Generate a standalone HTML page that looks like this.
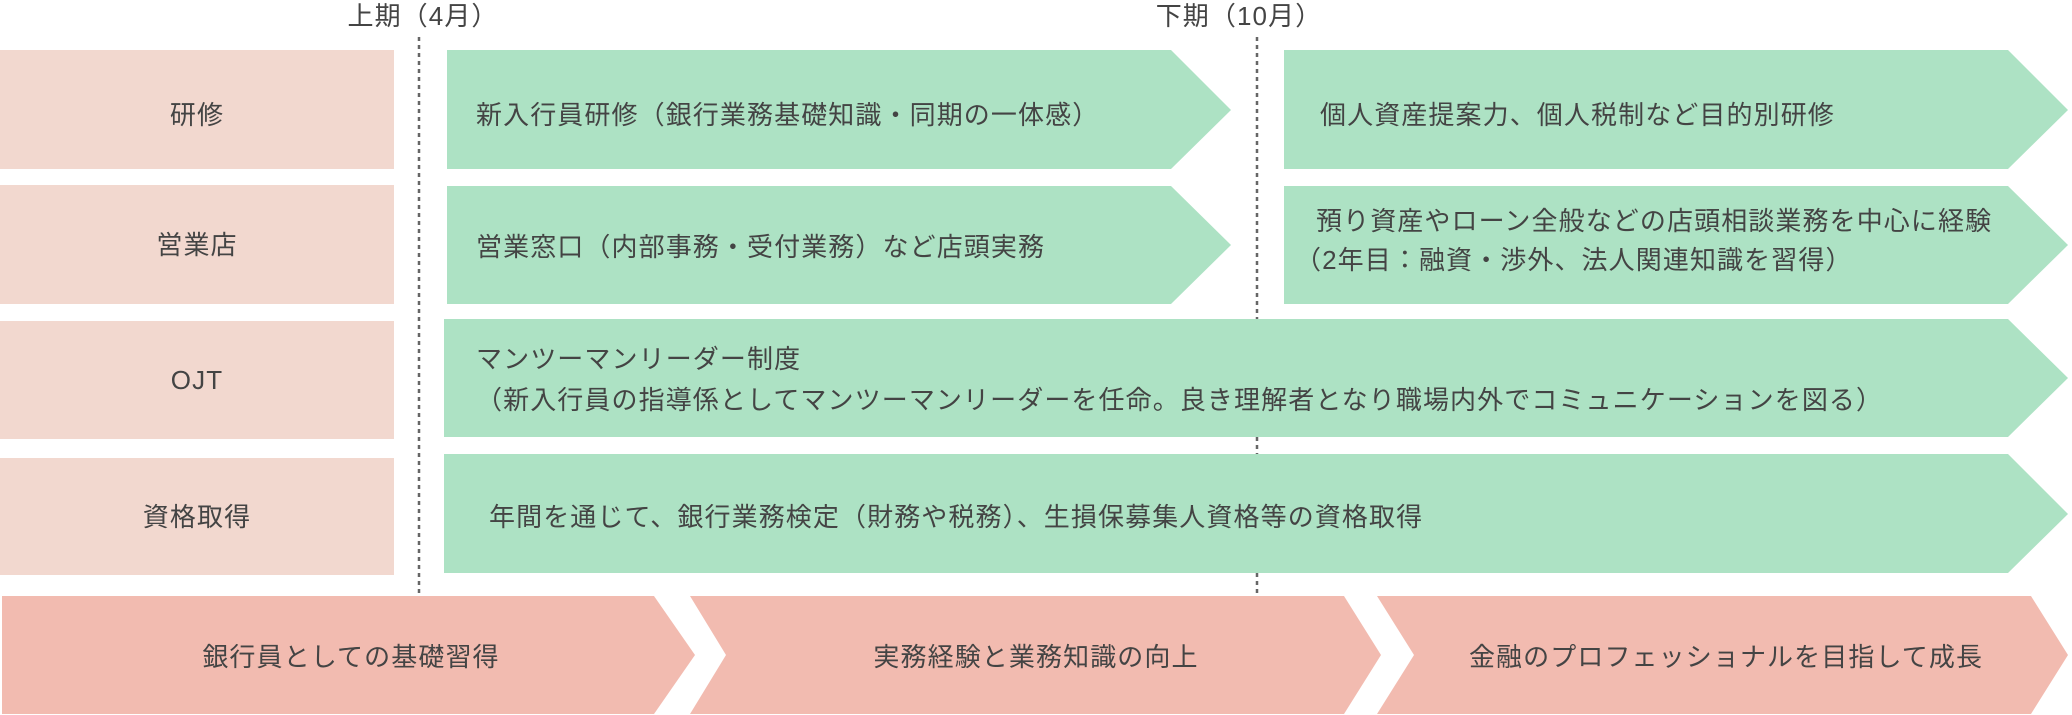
<!DOCTYPE html>
<html><head><meta charset="utf-8"><style>
html,body{margin:0;padding:0;background:#fff;}
svg{display:block;}
text{font-family:"Liberation Sans","Noto Sans CJK JP",sans-serif;font-size:26px;fill:#444;letter-spacing:1.1px;}
</style></head><body>
<svg width="2072" height="715" viewBox="0 0 2072 715" xmlns="http://www.w3.org/2000/svg">
<line x1="419" y1="37" x2="419" y2="596" stroke="#666" stroke-width="2.5" stroke-dasharray="4,4"/>
<line x1="1257" y1="37" x2="1257" y2="596" stroke="#666" stroke-width="2.5" stroke-dasharray="4,4"/>
<text x="423" y="25" text-anchor="middle" style="font-size:26px">上期（4月）</text>
<text x="1239" y="25" text-anchor="middle" style="font-size:26px">下期（10月）</text>

<g fill="#f2d8cf">
<rect x="0" y="50" width="394" height="119"/>
<rect x="0" y="185" width="394" height="119"/>
<rect x="0" y="321" width="394" height="118"/>
<rect x="0" y="458" width="394" height="117"/>
</g>
<g text-anchor="middle">
<text x="197" y="124">研修</text>
<text x="197" y="254">営業店</text>
<text x="197" y="389">OJT</text>
<text x="197" y="526">資格取得</text>
</g>

<g fill="#ade2c4">
<polygon points="447,50 1171,50 1231,110 1171,169 447,169"/>
<polygon points="1284,50 2008,50 2068,110 2008,169 1284,169"/>
<polygon points="447,186 1171,186 1231,245 1171,304 447,304"/>
<polygon points="1284,186 2008,186 2068,245 2008,304 1284,304"/>
<polygon points="444,319 2008,319 2068,378 2008,437 444,437"/>
<polygon points="444,454 2008,454 2068,514 2008,573 444,573"/>
</g>
<text x="476" y="124">新入行員研修（銀行業務基礎知識・同期の一体感）</text>
<text x="1320" y="124">個人資産提案力、個人税制など目的別研修</text>
<text x="476" y="256">営業窓口（内部事務・受付業務）など店頭実務</text>
<text x="1316" y="230">預り資産やローン全般などの店頭相談業務を中心に経験</text>
<text x="1295" y="269">（2年目：融資・渉外、法人関連知識を習得）</text>
<text x="476" y="368">マンツーマンリーダー制度</text>
<text x="476" y="409">（新入行員の指導係としてマンツーマンリーダーを任命。良き理解者となり職場内外でコミュニケーションを図る）</text>
<text x="489" y="526">年間を通じて、銀行業務検定（財務や税務）、生損保募集人資格等の資格取得</text>

<g fill="#f2bbb0">
<polygon points="2,596 654,596 695,655 654,714 2,714"/>
<polygon points="690,596 1344,596 1381,655 1344,714 690,714 726,655"/>
<polygon points="1377,596 2031,596 2068,655 2031,714 1377,714 1414,655"/>
</g>
<g text-anchor="middle">
<text x="351" y="666">銀行員としての基礎習得</text>
<text x="1036" y="666">実務経験と業務知識の向上</text>
<text x="1726" y="666">金融のプロフェッショナルを目指して成長</text>
</g>
</svg>
</body></html>
